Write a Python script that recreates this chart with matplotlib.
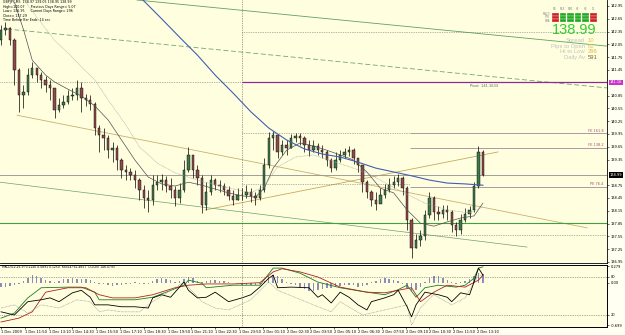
import matplotlib
matplotlib.use("Agg")
import matplotlib.pyplot as plt
import matplotlib.transforms as mtrans
from matplotlib.patches import Rectangle

# ---------------------------------------------------------------
# GBPJPY candles, 15 minute bars from 1 Dec 10:30 (open = prev close)
# ---------------------------------------------------------------
BAR_MIN = 15
first_open = 142.15
closes = [142.39, 142.43, 142.15, 141.45, 140.86, 140.93, 141.33, 141.50, 141.33, 141.22,
          141.10, 141.03, 140.51, 140.63, 140.70, 140.84, 140.86, 141.03, 140.79, 140.75,
          140.65, 140.09, 139.93, 139.86, 139.57, 139.62, 139.34, 139.11, 139.06, 138.99,
          138.87, 138.64, 138.45, 138.40, 138.75, 138.82, 138.87, 138.73, 138.64, 138.45,
          138.64, 139.11, 139.46, 139.11, 138.92, 138.29, 138.59, 138.87, 138.75, 138.73,
          138.64, 138.50, 138.40, 138.52, 138.52, 138.59, 138.50, 138.45, 138.64, 139.22,
          139.86, 139.93, 139.53, 139.69, 139.62, 139.86, 139.90, 139.86, 139.69, 139.57,
          139.67, 139.57, 139.53, 139.34, 139.15, 139.34, 139.46, 139.53, 139.57, 139.39,
          139.22, 138.82, 138.59, 138.40, 138.31, 138.52, 138.64, 138.75, 138.82, 138.92,
          138.68, 137.93, 137.28, 137.47, 137.56, 138.05, 138.45, 138.12, 138.07, 138.17,
          138.12, 137.82, 137.70, 137.93, 138.07, 138.17, 138.73, 139.53, 138.99]
highs = [142.50, 142.57, 142.46, 142.20, 141.50, 141.10, 141.50, 141.64, 141.50, 141.40,
         141.31, 141.22, 141.03, 140.79, 140.86, 140.98, 141.03, 141.22, 141.17, 140.89,
         140.86, 140.70, 140.16, 140.09, 139.93, 139.76, 139.69, 139.39, 139.22, 139.15,
         139.11, 138.92, 138.75, 138.64, 138.99, 138.99, 139.01, 138.97, 138.92, 138.73,
         138.80, 139.34, 139.65, 139.46, 139.22, 138.99, 138.82, 138.99, 138.92, 138.87,
         138.80, 138.73, 138.64, 138.68, 138.68, 138.75, 138.68, 138.59, 138.75, 139.39,
         140.00, 140.02, 139.95, 139.81, 139.81, 139.95, 139.97, 139.97, 139.90, 139.81,
         139.81, 139.74, 139.69, 139.57, 139.39, 139.53, 139.57, 139.62, 139.67, 139.62,
         139.39, 139.22, 138.87, 138.64, 138.59, 138.68, 138.78, 138.92, 138.97, 139.01,
         138.97, 138.73, 137.98, 137.61, 137.70, 138.17, 138.59, 138.50, 138.26, 138.29,
         138.29, 138.17, 137.89, 138.07, 138.22, 138.26, 138.82, 139.67, 139.57]
lows = [142.04, 142.27, 142.04, 141.10, 140.47, 140.56, 140.86, 141.26, 141.17, 141.03,
        140.93, 140.75, 140.32, 140.47, 140.56, 140.65, 140.75, 140.75, 140.47, 140.61,
        140.51, 139.93, 139.53, 139.57, 139.39, 139.29, 139.11, 138.92, 138.87, 138.87,
        138.68, 138.40, 138.22, 138.12, 138.29, 138.64, 138.64, 138.59, 138.45, 138.26,
        138.33, 138.59, 139.06, 138.92, 138.75, 138.10, 138.17, 138.52, 138.64, 138.59,
        138.52, 138.40, 138.29, 138.40, 138.40, 138.45, 138.36, 138.29, 138.40, 138.59,
        139.15, 139.57, 139.39, 139.46, 139.46, 139.62, 139.76, 139.69, 139.53, 139.43,
        139.53, 139.46, 139.39, 139.20, 139.06, 139.11, 139.29, 139.39, 139.43, 139.25,
        139.06, 138.59, 138.45, 138.26, 138.17, 138.36, 138.45, 138.59, 138.68, 138.73,
        138.52, 137.70, 137.04, 137.28, 137.32, 137.47, 137.98, 137.93, 137.93, 137.98,
        137.93, 137.65, 137.56, 137.61, 137.89, 137.98, 138.12, 138.68, 138.97]

# moving averages (bar index -> price)
fast_idx = [3, 5, 7, 10, 12, 15, 18, 21, 24, 27, 30, 33, 36, 39, 42, 45, 48, 51, 54, 57,
            59, 61, 64, 67, 70, 73, 76, 79, 82, 85, 88, 91, 94, 97, 100, 103, 106, 108]
fast_val = [143.04, 142.41, 141.68, 141.33, 141.17, 141.00, 140.84, 140.61, 140.28, 139.81,
            139.34, 138.94, 138.78, 138.73, 138.82, 138.75, 138.66, 138.57, 138.50, 138.47,
            138.68, 139.15, 139.57, 139.74, 139.67, 139.57, 139.46, 139.34, 139.06, 138.68,
            138.57, 138.17, 137.86, 137.79, 137.89, 137.98, 138.03, 138.33]
slow_idx = [5, 8, 12, 15, 18, 21, 24, 28, 31, 35, 39, 44, 50, 56, 59, 62, 66, 70, 75, 82,
            89, 95, 100, 105, 108]
slow_val = [143.12, 142.69, 142.15, 141.85, 141.52, 141.22, 140.75, 140.16, 139.65, 139.27,
            139.04, 138.87, 138.71, 138.57, 138.73, 139.18, 139.41, 139.46, 139.29, 139.04,
            138.64, 138.33, 138.17, 138.10, 138.24]
blue_idx = [28, 32, 36, 40, 44, 48, 52, 56, 60, 64, 68, 72, 76, 80, 84, 88, 92, 96, 100,
            104, 108]
blue_val = [143.49, 143.07, 142.65, 142.22, 141.80, 141.33, 140.91, 140.47, 140.09, 139.81,
            139.60, 139.48, 139.41, 139.29, 139.15, 139.06, 138.97, 138.87, 138.80, 138.78,
            138.75]

# trend lines: (minute, price) end points
green_top = [(457, 143.09), (2037, 142.01)]
green_dash = [(20, 142.41), (2037, 141.03)]
tan_down = [(54, 140.39), (1970, 137.75)]
tan_up = [(686, 138.17), (1671, 139.53)]
green_thin = [(-3, 138.82), (1768, 137.30)]

# horizontal levels
bid = 138.99
pivot = 141.1633
prev_pivot = 141.1633
day_high_lvl = 142.34
fe_levels = [139.97, 139.62, 138.71]
fe_names = ["FE 161.8", "FE 138.2", "PE 76.4"]
fe_dotted = [139.97, 138.78]
support = 137.87
low_dotted = 137.58

# indicator window
macd_hist = [-0.06, -0.07, -0.05, -0.03, -0.02, 0.04, 0.09, 0.13, 0.12, 0.08,
             0.05, 0.04, 0.02, 0.04, 0.06, 0.07, 0.08, 0.07, 0.06, 0.06,
             0.05, 0.02, -0.01, -0.02, -0.04, -0.05, -0.04, -0.03, -0.02, -0.01,
             0.01, -0.01, -0.02, -0.02, 0.03, 0.06, 0.08, 0.07, 0.05, 0.02,
             0.03, 0.07, 0.10, 0.08, 0.04, 0.01, 0.03, 0.05, 0.05, 0.04,
             0.03, 0.02, 0.00, -0.02, -0.03, -0.03, -0.04, -0.04, -0.02, 0.04,
             0.11, 0.14, 0.12, 0.06, 0.02, -0.02, -0.04, -0.06, -0.10, -0.13,
             -0.14, -0.12, -0.10, -0.09, -0.08, -0.06, -0.05, -0.04, -0.03, -0.04,
             -0.06, -0.05, -0.03, 0.01, 0.04, 0.07, 0.08, 0.07, 0.05, 0.03,
             -0.02, -0.08, -0.13, -0.12, -0.06, 0.02, 0.09, 0.12, 0.11, 0.08,
             0.05, 0.02, -0.01, 0.01, 0.03, 0.06, 0.11, 0.17, 0.15]
green_idx = [0, 3, 6, 9, 15, 18, 21, 22, 30, 34, 37, 41, 42, 45, 46, 52, 58, 61, 63, 67,
             71, 76, 82, 86, 89, 91, 93, 95, 98, 102, 104, 106, 107, 108]
green_val = [15, 23, 47, 63, 64, 64, 56, 44, 44, 48, 56, 67, 75, 70, 63, 67, 67, 94, 94, 86,
             72, 63, 56, 52, 60, 67, 48, 63, 67, 64, 67, 78, 94, 96]
red_idx = [0, 4, 7, 10, 15, 19, 22, 25, 30, 34, 39, 42, 46, 52, 58, 61, 63, 67, 71, 76,
           82, 86, 92, 94, 97, 100, 104, 107, 108]
red_val = [9, 15, 25, 56, 63, 63, 52, 47, 47, 52, 63, 67, 69, 69, 71, 88, 93, 88, 80, 64,
           56, 55, 63, 41, 56, 67, 64, 75, 83]
black_idx = [0, 3, 6, 9, 11, 13, 16, 18, 20, 21, 24, 27, 30, 33, 34, 36, 38, 41, 42, 44,
             46, 48, 51, 54, 56, 58, 60, 61, 62, 65, 69, 71, 72, 74, 76, 78, 80, 82, 83, 86,
             88, 89, 91, 92, 93, 95, 98, 100, 101, 103, 105, 106, 107, 108]
black_val = [25, 20, 41, 44, 47, 41, 55, 59, 48, 36, 36, 33, 33, 31, 47, 52, 48, 72, 59, 47,
             48, 56, 41, 47, 52, 64, 78, 83, 63, 64, 63, 48, 52, 39, 56, 48, 36, 28, 41, 47,
             52, 59, 33, 17, 36, 56, 52, 48, 41, 55, 52, 72, 94, 83]
gray_idx = [0, 3, 6, 9, 13, 17, 20, 22, 24, 27, 31, 34, 41, 45, 48, 51, 56, 60, 62, 70,
            74, 76, 81, 91, 92, 94, 97, 101, 104, 107, 108]
gray_val = [31, 36, 23, 36, 31, 44, 41, 25, 28, 25, 25, 41, 72, 41, 31, 28, 44, 72, 59, 36,
            25, 41, 20, 36, 4, 31, 52, 36, 47, 83, 83]

time_labels = ["1 Dec 2009", "1 Dec 11:50", "1 Dec 13:10", "1 Dec 14:30", "1 Dec 15:50",
               "1 Dec 17:10", "1 Dec 18:30", "1 Dec 19:50", "1 Dec 21:10", "1 Dec 22:30",
               "1 Dec 23:50", "2 Dec 01:10", "2 Dec 02:30", "2 Dec 03:50", "2 Dec 05:10",
               "2 Dec 06:30", "2 Dec 07:50", "2 Dec 09:10", "2 Dec 10:30", "2 Dec 11:50",
               "2 Dec 13:10"]
LABEL_STEP = 80      # minutes between time labels
DAY_SEP = 810        # 2 Dec 00:00
FE_START = 1375

info_lines = ["GBPJPY,M5  138.97 139.05 138.95 138.99",
              "High=140.07      Previous Days Range= 5.07",
              "Low= 136.95      Current Days Range= 296",
              "Close= 137.29",
              "Time Before Bar Ends: 14 sec"]
widget_cols = ["M5", "M15", "M30", "H1", "H4", "D1"]
widget_rows = ["MACD", "STR", "EMA"]
widget_signal = [[-1, 1, 1, 1, 1, -1],
                 [-1, 1, 1, 1, 1, -1],
                 [-1, 1, 1, 1, 1, -1]]
stats_names = ["Spread", "Pips to Open", "Hi to Low", "Daily Av"]
stats_vals = ["10", "61", "296", "591"]
stats_colors = ["#D8C850", "#D8C870", "#D8B840", "#806040"]
indicator_text = ("MACD(12,26,9) 0.2140 0.0891 0.1250  RSI(14) 61.4657  "
                  "CCI(20) 146.0793")

# ---------------------------------------------------------------
W, H = 625, 335
BG = "#FFFFE0"
X_MIN, X_MAX = -3.4, 2037
fs = 2.6

fig = plt.figure(figsize=(W / 100, H / 100), dpi=100, facecolor="#FFFFF2")
ax = fig.add_axes([0, 72 / H, 607 / W, 263 / H], facecolor=BG)
ax_ind = fig.add_axes([0, 8 / H, 607 / W, 62 / H], facecolor=BG)

minutes = [BAR_MIN * i for i in range(len(closes))]
opens = [first_open] + closes[:-1]


def mins(idx):
    return [BAR_MIN * i for i in idx]


# candles
ax.vlines(minutes, lows, highs, color="black", lw=0.5, zorder=3)
body_col = ["#3E7A4A" if c >= o else "#8E4B4B" for o, c in zip(opens, closes)]
ax.bar(minutes, [c - o for o, c in zip(opens, closes)], bottom=opens, width=8,
       color=body_col, edgecolor="black", lw=0.3, zorder=4)

# moving averages
ax.plot(mins(fast_idx), fast_val, color="#505050", lw=0.5, zorder=5)
ax.plot(mins(slow_idx), slow_val, color="#A0A0A0", lw=0.5, ls=(0, (1, 1)), zorder=5)
ax.plot(mins(blue_idx), blue_val, color="#4060B0", lw=0.8, zorder=5)

# trend lines
for pts, col, ls, lw in [(green_top, "#60A060", "-", 0.6),
                         (green_dash, "#70A870", (0, (6, 3)), 0.6),
                         (tan_down, "#C8B070", "-", 0.6),
                         (tan_up, "#C8A860", "-", 0.6),
                         (green_thin, "#70A070", "-", 0.5)]:
    ax.plot([p[0] for p in pts], [p[1] for p in pts], color=col, ls=ls, lw=lw, zorder=2)

# horizontal levels
dot = (0, (1, 1.5))
ax.hlines(day_high_lvl, DAY_SEP, X_MAX, color="#707070", lw=0.5, ls=dot, zorder=2)
ax.hlines(prev_pivot, X_MIN, DAY_SEP, color="#707070", lw=0.5, ls=dot, zorder=2)
ax.hlines(pivot, DAY_SEP, X_MAX, color="#8A2B9A", lw=0.9, zorder=2)
ax.text(1577, pivot - 0.04, "Pivot  %.4f" % pivot, fontsize=fs, color="#606060", va="top")
for lv in fe_dotted:
    ax.hlines(lv, DAY_SEP, FE_START, color="#707070", lw=0.5, ls=dot, zorder=2)
for lv, nm in zip(fe_levels, fe_names):
    ax.hlines(lv, FE_START, X_MAX, color="#A08898", lw=0.6, zorder=2)
    ax.text(2025, lv + 0.015, nm, fontsize=fs, color="#A05080", ha="right", va="bottom")
ax.axhline(bid, color="#909090", lw=0.6, zorder=2)
ax.axhline(support, color="#40A040", lw=0.8, zorder=2)
ax.hlines(low_dotted, DAY_SEP, X_MAX, color="#707070", lw=0.5, ls=dot, zorder=2)
ax.axvline(DAY_SEP, color="#505050", lw=0.5, ls=dot, zorder=2)

ax.set_xlim(X_MIN, X_MAX)
ax.set_ylim(143.0906 - 263 * 0.0234375, 143.0906)
ax.yaxis.tick_right()
# price grid every 0.30; the ones hidden behind the bid / pivot boxes are skipped
price_ticks = [136.95 + 0.30 * k for k in range(21)]
price_ticks = [p for p in price_ticks if abs(p - bid) > 0.12 and abs(p - pivot) > 0.12]
ax.set_yticks(price_ticks)
ax.set_yticklabels(["%.2f" % p for p in price_ticks])
ax.tick_params(axis="y", labelsize=fs, length=1.5, width=0.4, pad=1)
ax.tick_params(axis="x", bottom=False, labelbottom=False)
for s in ["left", "top"]:
    ax.spines[s].set_visible(False)
ax.spines["right"].set_linewidth(0.6)
ax.spines["bottom"].set_linewidth(0.6)

blend = mtrans.blended_transform_factory(ax.transAxes, ax.transData)
ax.text(1.004, bid, "%.2f" % bid, transform=blend, fontsize=fs, color="white",
        va="center", ha="left", clip_on=False, zorder=10,
        bbox=dict(boxstyle="square,pad=0.2", fc="black", ec="none"))
ax.text(1.004, pivot, "%.2f" % pivot, transform=blend, fontsize=fs, color="white",
        va="center", ha="left", clip_on=False, zorder=10,
        bbox=dict(boxstyle="square,pad=0.2", fc="#CC33CC", ec="none"))

# info text top-left
for k, line in enumerate(info_lines):
    fig.text(3 / W, 1 - (2.5 + 4.4 * k) / H, line, fontsize=2.3, va="center", ha="left")

# signal widget top-right
for r, row in enumerate(widget_signal):
    fig.text(550 / W, 1 - (14 + 3.3 * r) / H, widget_rows[r], fontsize=1.8, ha="right",
             va="center", color="#808080")
    for c, sig in enumerate(row):
        fig.add_artist(Rectangle(((552 + 7.6 * c) / W, 1 - (15.6 + 3.3 * r) / H),
                                 6.6 / W, 3.0 / H, transform=fig.transFigure,
                                 facecolor="#22AA22" if sig > 0 else "#CC2222",
                                 edgecolor="#FFFFFF", lw=0.2))
for c, name in enumerate(widget_cols):
    fig.text((555 + 7.6 * c) / W, 1 - 9 / H, name, fontsize=1.8, ha="center",
             va="center", color="#808080")
fig.text(574 / W, 1 - 30 / H, "%.2f" % bid, fontsize=10.5, family="Liberation Sans",
         color="#33CC33", ha="center", va="center")
for k, (nm, val) in enumerate(zip(stats_names, stats_vals)):
    fig.text(585 / W, 1 - (40.5 + 5.6 * k) / H, nm, fontsize=4.2, family="Liberation Sans",
             color="#C0C0C0", ha="right", va="center")
    fig.text(588 / W, 1 - (40.5 + 5.6 * k) / H, val, fontsize=4.2, family="Liberation Sans",
             color=stats_colors[k], ha="left", va="center")

# indicator window
ax_ind.bar(minutes, macd_hist, width=5, color="#8C8CB8", lw=0, zorder=2)
ax_ind.set_xlim(X_MIN, X_MAX)
ax_ind.set_ylim(-0.726, 0.297)
ax_osc = ax_ind.twinx()
ax_osc.set_ylim(1.05, 98.9)
ax_osc.plot(mins(green_idx), green_val, color="#1E7A1E", lw=0.6)
ax_osc.plot(mins(red_idx), red_val, color="#B02020", lw=0.6)
ax_osc.plot(mins(gray_idx), gray_val, color="#909090", lw=0.5, ls=(0, (1, 1)))
ax_osc.plot(mins(black_idx), black_val, color="black", lw=0.6)
ax_osc.axhline(80, color="#606060", lw=0.5, ls=dot)
ax_osc.axhline(20, color="#606060", lw=0.5, ls=dot)
ax_osc.axvline(DAY_SEP, color="#505050", lw=0.5, ls=dot)
ax_osc.set_yticks([80, 20])
ax_osc.tick_params(axis="y", labelsize=fs, length=1.5, width=0.4, pad=1)
ax_osc.text(3, 95, indicator_text, fontsize=2.2, va="center", ha="left")

ax_ind.yaxis.tick_right()
ax_ind.set_yticks([0.279, 0.0, -0.699])
ax_ind.set_yticklabels(["0.279", "0.00", "-0.699"])
ax_ind.tick_params(axis="y", labelsize=fs, length=1.5, width=0.4, pad=1)
ax_ind.set_xticks([LABEL_STEP * k for k in range(len(time_labels))])
ax_ind.set_xticklabels(time_labels, ha="left")
ax_ind.tick_params(axis="x", labelsize=fs, length=1.5, width=0.4, pad=1)
for a in (ax_ind, ax_osc):
    a.spines["left"].set_visible(False)
    for s in ["right", "top", "bottom"]:
        a.spines[s].set_linewidth(0.6)

fig.savefig("out.png", dpi=100, facecolor=fig.get_facecolor())
